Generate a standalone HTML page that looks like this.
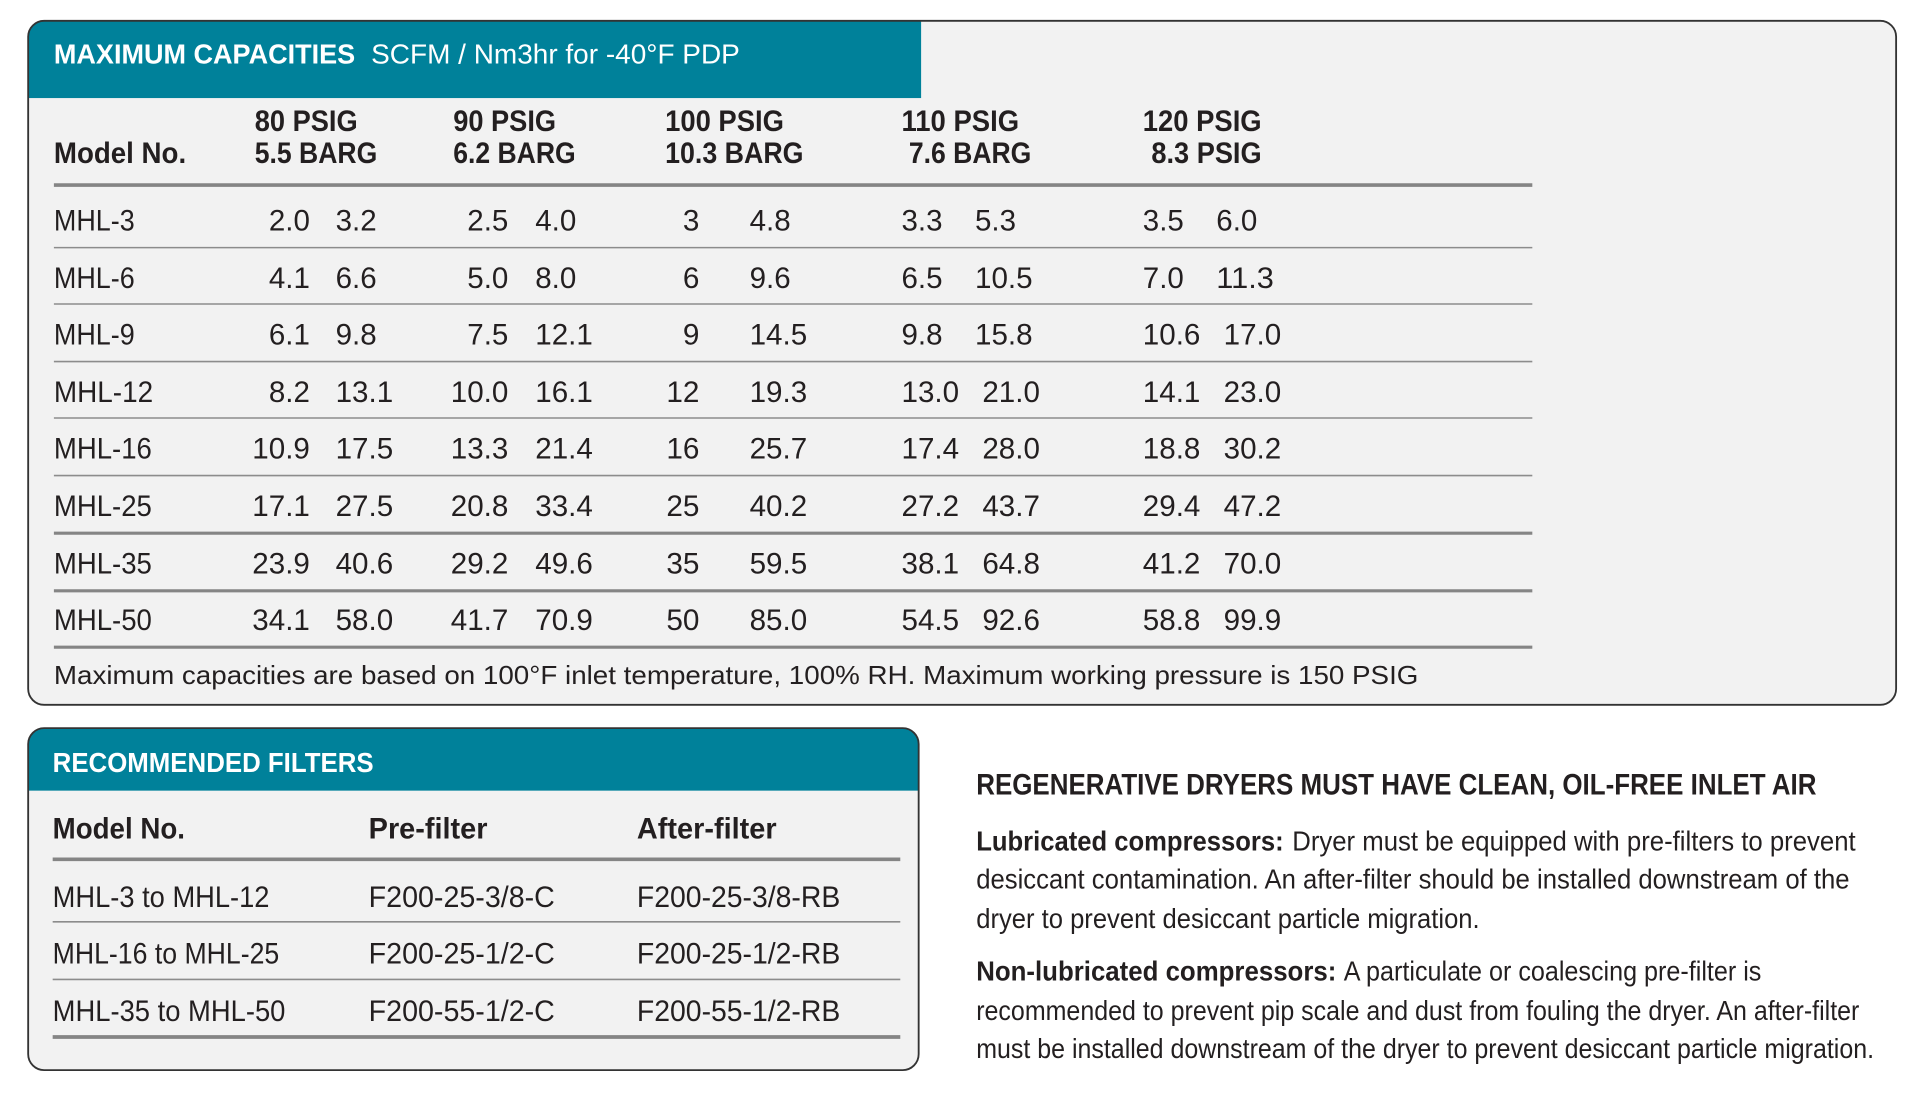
<!DOCTYPE html>
<html><head><meta charset="utf-8"><style>
html,body{margin:0;padding:0;background:#fff;}
svg{display:block}
text{font-family:"Liberation Sans Narrow","Liberation Sans",sans-serif;fill:#231f20}
.b{font-weight:bold}
.n{font-size:24px}
.h{font-size:24px;font-weight:bold}
</style></head><body>
<svg width="1920" height="1095" viewBox="0 0 1567.5 893.3" preserveAspectRatio="none" xmlns="http://www.w3.org/2000/svg">
<defs>
<clipPath id="c1"><rect x="23" y="17" width="1525" height="558" rx="13"/></clipPath>
<clipPath id="c2"><rect x="23" y="594" width="727" height="279" rx="13"/></clipPath>
</defs>
<rect width="1568" height="894" fill="#fff"/>
<rect x="23" y="17" width="1525" height="558" rx="13" fill="#f2f2f2"/>
<rect x="23" y="17" width="729" height="63" fill="#00819a" clip-path="url(#c1)"/>
<rect x="23" y="17" width="1525" height="558" rx="13" fill="none" stroke="#333" stroke-width="1.5"/>
<text x="44" y="52" class="b" style="font-size:23px;fill:#fff" textLength="246" lengthAdjust="spacingAndGlyphs">MAXIMUM CAPACITIES</text>
<text x="303" y="52" style="font-size:23px;fill:#fff" textLength="301" lengthAdjust="spacingAndGlyphs">SCFM / Nm3hr for -40°F PDP</text>

<text x="208" y="107" class="h" textLength="84" lengthAdjust="spacingAndGlyphs">80 PSIG</text>
<text x="208" y="133" class="h" textLength="100" lengthAdjust="spacingAndGlyphs">5.5 BARG</text>
<text x="44" y="133" class="h" textLength="108" lengthAdjust="spacingAndGlyphs">Model No.</text>
<text x="370" y="107" class="h" textLength="84" lengthAdjust="spacingAndGlyphs">90 PSIG</text>
<text x="370" y="133" class="h" textLength="100" lengthAdjust="spacingAndGlyphs">6.2 BARG</text>
<text x="543" y="107" class="h" textLength="97" lengthAdjust="spacingAndGlyphs">100 PSIG</text>
<text x="543" y="133" class="h" textLength="113" lengthAdjust="spacingAndGlyphs">10.3 BARG</text>
<text x="736" y="107" class="h" textLength="96" lengthAdjust="spacingAndGlyphs">110 PSIG</text>
<text x="742" y="133" class="h" textLength="100" lengthAdjust="spacingAndGlyphs">7.6 BARG</text>
<text x="933" y="107" class="h" textLength="97" lengthAdjust="spacingAndGlyphs">120 PSIG</text>
<text x="940" y="133" class="h" textLength="90" lengthAdjust="spacingAndGlyphs">8.3 PSIG</text>

<line x1="44" y1="151" x2="1251" y2="151" stroke="#858585" stroke-width="3"/>
<g stroke="#8c8c8c" stroke-width="1.3">
<line x1="44" y1="202" x2="1251" y2="202"/>
<line x1="44" y1="248" x2="1251" y2="248"/>
<line x1="44" y1="295" x2="1251" y2="295"/>
<line x1="44" y1="341" x2="1251" y2="341"/>
<line x1="44" y1="388" x2="1251" y2="388"/>
</g>
<g stroke="#858585" stroke-width="2.5">
<line x1="44" y1="435" x2="1251" y2="435"/>
<line x1="44" y1="482" x2="1251" y2="482"/>
<line x1="44" y1="528" x2="1251" y2="528"/>
</g>

<g transform="translate(0,188)">
<text x="44" class="n" textLength="66" lengthAdjust="spacingAndGlyphs">MHL-3</text>
<text x="253" text-anchor="end" class="n" textLength="33.5" lengthAdjust="spacingAndGlyphs">2.0</text><text x="274" class="n" textLength="33.5" lengthAdjust="spacingAndGlyphs">3.2</text>
<text x="415" text-anchor="end" class="n" textLength="33.5" lengthAdjust="spacingAndGlyphs">2.5</text><text x="437" class="n" textLength="33.5" lengthAdjust="spacingAndGlyphs">4.0</text>
<text x="571" text-anchor="end" class="n" textLength="13.5" lengthAdjust="spacingAndGlyphs">3</text><text x="612" class="n" textLength="33.5" lengthAdjust="spacingAndGlyphs">4.8</text>
<text x="736" class="n" textLength="33.5" lengthAdjust="spacingAndGlyphs">3.3</text><text x="796" class="n" textLength="33.5" lengthAdjust="spacingAndGlyphs">5.3</text>
<text x="933" class="n" textLength="33.5" lengthAdjust="spacingAndGlyphs">3.5</text><text x="993" class="n" textLength="33.5" lengthAdjust="spacingAndGlyphs">6.0</text>
</g>
<g transform="translate(0,235)">
<text x="44" class="n" textLength="66" lengthAdjust="spacingAndGlyphs">MHL-6</text>
<text x="253" text-anchor="end" class="n" textLength="33.5" lengthAdjust="spacingAndGlyphs">4.1</text><text x="274" class="n" textLength="33.5" lengthAdjust="spacingAndGlyphs">6.6</text>
<text x="415" text-anchor="end" class="n" textLength="33.5" lengthAdjust="spacingAndGlyphs">5.0</text><text x="437" class="n" textLength="33.5" lengthAdjust="spacingAndGlyphs">8.0</text>
<text x="571" text-anchor="end" class="n" textLength="13.5" lengthAdjust="spacingAndGlyphs">6</text><text x="612" class="n" textLength="33.5" lengthAdjust="spacingAndGlyphs">9.6</text>
<text x="736" class="n" textLength="33.5" lengthAdjust="spacingAndGlyphs">6.5</text><text x="796" class="n" textLength="47" lengthAdjust="spacingAndGlyphs">10.5</text>
<text x="933" class="n" textLength="33.5" lengthAdjust="spacingAndGlyphs">7.0</text><text x="993" class="n" textLength="47" lengthAdjust="spacingAndGlyphs">11.3</text>
</g>
<g transform="translate(0,281)">
<text x="44" class="n" textLength="66" lengthAdjust="spacingAndGlyphs">MHL-9</text>
<text x="253" text-anchor="end" class="n" textLength="33.5" lengthAdjust="spacingAndGlyphs">6.1</text><text x="274" class="n" textLength="33.5" lengthAdjust="spacingAndGlyphs">9.8</text>
<text x="415" text-anchor="end" class="n" textLength="33.5" lengthAdjust="spacingAndGlyphs">7.5</text><text x="437" class="n" textLength="47" lengthAdjust="spacingAndGlyphs">12.1</text>
<text x="571" text-anchor="end" class="n" textLength="13.5" lengthAdjust="spacingAndGlyphs">9</text><text x="612" class="n" textLength="47" lengthAdjust="spacingAndGlyphs">14.5</text>
<text x="736" class="n" textLength="33.5" lengthAdjust="spacingAndGlyphs">9.8</text><text x="796" class="n" textLength="47" lengthAdjust="spacingAndGlyphs">15.8</text>
<text x="933" class="n" textLength="47" lengthAdjust="spacingAndGlyphs">10.6</text><text x="999" class="n" textLength="47" lengthAdjust="spacingAndGlyphs">17.0</text>
</g>
<g transform="translate(0,328)">
<text x="44" class="n" textLength="81" lengthAdjust="spacingAndGlyphs">MHL-12</text>
<text x="253" text-anchor="end" class="n" textLength="33.5" lengthAdjust="spacingAndGlyphs">8.2</text><text x="274" class="n" textLength="47" lengthAdjust="spacingAndGlyphs">13.1</text>
<text x="415" text-anchor="end" class="n" textLength="47" lengthAdjust="spacingAndGlyphs">10.0</text><text x="437" class="n" textLength="47" lengthAdjust="spacingAndGlyphs">16.1</text>
<text x="571" text-anchor="end" class="n" textLength="27" lengthAdjust="spacingAndGlyphs">12</text><text x="612" class="n" textLength="47" lengthAdjust="spacingAndGlyphs">19.3</text>
<text x="736" class="n" textLength="47" lengthAdjust="spacingAndGlyphs">13.0</text><text x="802" class="n" textLength="47" lengthAdjust="spacingAndGlyphs">21.0</text>
<text x="933" class="n" textLength="47" lengthAdjust="spacingAndGlyphs">14.1</text><text x="999" class="n" textLength="47" lengthAdjust="spacingAndGlyphs">23.0</text>
</g>
<g transform="translate(0,374)">
<text x="44" class="n" textLength="80" lengthAdjust="spacingAndGlyphs">MHL-16</text>
<text x="253" text-anchor="end" class="n" textLength="47" lengthAdjust="spacingAndGlyphs">10.9</text><text x="274" class="n" textLength="47" lengthAdjust="spacingAndGlyphs">17.5</text>
<text x="415" text-anchor="end" class="n" textLength="47" lengthAdjust="spacingAndGlyphs">13.3</text><text x="437" class="n" textLength="47" lengthAdjust="spacingAndGlyphs">21.4</text>
<text x="571" text-anchor="end" class="n" textLength="27" lengthAdjust="spacingAndGlyphs">16</text><text x="612" class="n" textLength="47" lengthAdjust="spacingAndGlyphs">25.7</text>
<text x="736" class="n" textLength="47" lengthAdjust="spacingAndGlyphs">17.4</text><text x="802" class="n" textLength="47" lengthAdjust="spacingAndGlyphs">28.0</text>
<text x="933" class="n" textLength="47" lengthAdjust="spacingAndGlyphs">18.8</text><text x="999" class="n" textLength="47" lengthAdjust="spacingAndGlyphs">30.2</text>
</g>
<g transform="translate(0,421)">
<text x="44" class="n" textLength="80" lengthAdjust="spacingAndGlyphs">MHL-25</text>
<text x="253" text-anchor="end" class="n" textLength="47" lengthAdjust="spacingAndGlyphs">17.1</text><text x="274" class="n" textLength="47" lengthAdjust="spacingAndGlyphs">27.5</text>
<text x="415" text-anchor="end" class="n" textLength="47" lengthAdjust="spacingAndGlyphs">20.8</text><text x="437" class="n" textLength="47" lengthAdjust="spacingAndGlyphs">33.4</text>
<text x="571" text-anchor="end" class="n" textLength="27" lengthAdjust="spacingAndGlyphs">25</text><text x="612" class="n" textLength="47" lengthAdjust="spacingAndGlyphs">40.2</text>
<text x="736" class="n" textLength="47" lengthAdjust="spacingAndGlyphs">27.2</text><text x="802" class="n" textLength="47" lengthAdjust="spacingAndGlyphs">43.7</text>
<text x="933" class="n" textLength="47" lengthAdjust="spacingAndGlyphs">29.4</text><text x="999" class="n" textLength="47" lengthAdjust="spacingAndGlyphs">47.2</text>
</g>
<g transform="translate(0,468)">
<text x="44" class="n" textLength="80" lengthAdjust="spacingAndGlyphs">MHL-35</text>
<text x="253" text-anchor="end" class="n" textLength="47" lengthAdjust="spacingAndGlyphs">23.9</text><text x="274" class="n" textLength="47" lengthAdjust="spacingAndGlyphs">40.6</text>
<text x="415" text-anchor="end" class="n" textLength="47" lengthAdjust="spacingAndGlyphs">29.2</text><text x="437" class="n" textLength="47" lengthAdjust="spacingAndGlyphs">49.6</text>
<text x="571" text-anchor="end" class="n" textLength="27" lengthAdjust="spacingAndGlyphs">35</text><text x="612" class="n" textLength="47" lengthAdjust="spacingAndGlyphs">59.5</text>
<text x="736" class="n" textLength="47" lengthAdjust="spacingAndGlyphs">38.1</text><text x="802" class="n" textLength="47" lengthAdjust="spacingAndGlyphs">64.8</text>
<text x="933" class="n" textLength="47" lengthAdjust="spacingAndGlyphs">41.2</text><text x="999" class="n" textLength="47" lengthAdjust="spacingAndGlyphs">70.0</text>
</g>
<g transform="translate(0,514)">
<text x="44" class="n" textLength="80" lengthAdjust="spacingAndGlyphs">MHL-50</text>
<text x="253" text-anchor="end" class="n" textLength="47" lengthAdjust="spacingAndGlyphs">34.1</text><text x="274" class="n" textLength="47" lengthAdjust="spacingAndGlyphs">58.0</text>
<text x="415" text-anchor="end" class="n" textLength="47" lengthAdjust="spacingAndGlyphs">41.7</text><text x="437" class="n" textLength="47" lengthAdjust="spacingAndGlyphs">70.9</text>
<text x="571" text-anchor="end" class="n" textLength="27" lengthAdjust="spacingAndGlyphs">50</text><text x="612" class="n" textLength="47" lengthAdjust="spacingAndGlyphs">85.0</text>
<text x="736" class="n" textLength="47" lengthAdjust="spacingAndGlyphs">54.5</text><text x="802" class="n" textLength="47" lengthAdjust="spacingAndGlyphs">92.6</text>
<text x="933" class="n" textLength="47" lengthAdjust="spacingAndGlyphs">58.8</text><text x="999" class="n" textLength="47" lengthAdjust="spacingAndGlyphs">99.9</text>
</g>
<text x="44" y="558" style="font-family:'Liberation Sans',sans-serif;font-size:21px" textLength="1114" lengthAdjust="spacingAndGlyphs">Maximum capacities are based on 100°F inlet temperature, 100% RH. Maximum working pressure is 150 PSIG</text>

<rect x="23" y="594" width="727" height="279" rx="13" fill="#f2f2f2"/>
<rect x="23" y="594" width="727" height="51" fill="#00819a" clip-path="url(#c2)"/>
<rect x="23" y="594" width="727" height="279" rx="13" fill="none" stroke="#333" stroke-width="1.5"/>
<text x="43" y="630" class="b" style="font-size:23px;fill:#fff" textLength="262" lengthAdjust="spacingAndGlyphs">RECOMMENDED FILTERS</text>
<text x="43" y="684" class="h" textLength="108" lengthAdjust="spacingAndGlyphs">Model No.</text>
<text x="301" y="684" class="h" textLength="97" lengthAdjust="spacingAndGlyphs">Pre-filter</text>
<text x="520" y="684" class="h" textLength="114" lengthAdjust="spacingAndGlyphs">After-filter</text>
<line x1="43" y1="701" x2="735" y2="701" stroke="#858585" stroke-width="3"/>
<line x1="43" y1="752" x2="735" y2="752" stroke="#8c8c8c" stroke-width="1.3"/>
<line x1="43" y1="799" x2="735" y2="799" stroke="#8c8c8c" stroke-width="1.3"/>
<line x1="43" y1="846" x2="735" y2="846" stroke="#858585" stroke-width="3"/>
<text x="43" y="740" class="n" textLength="177" lengthAdjust="spacingAndGlyphs">MHL-3 to MHL-12</text>
<text x="301" y="740" class="n" textLength="152" lengthAdjust="spacingAndGlyphs">F200-25-3/8-C</text>
<text x="520" y="740" class="n" textLength="166" lengthAdjust="spacingAndGlyphs">F200-25-3/8-RB</text>
<text x="43" y="786" class="n" textLength="185" lengthAdjust="spacingAndGlyphs">MHL-16 to MHL-25</text>
<text x="301" y="786" class="n" textLength="152" lengthAdjust="spacingAndGlyphs">F200-25-1/2-C</text>
<text x="520" y="786" class="n" textLength="166" lengthAdjust="spacingAndGlyphs">F200-25-1/2-RB</text>
<text x="43" y="833" class="n" textLength="190" lengthAdjust="spacingAndGlyphs">MHL-35 to MHL-50</text>
<text x="301" y="833" class="n" textLength="152" lengthAdjust="spacingAndGlyphs">F200-55-1/2-C</text>
<text x="520" y="833" class="n" textLength="166" lengthAdjust="spacingAndGlyphs">F200-55-1/2-RB</text>

<text x="797" y="648" class="h" textLength="686" lengthAdjust="spacingAndGlyphs">REGENERATIVE DRYERS MUST HAVE CLEAN, OIL-FREE INLET AIR</text>
<text x="797" y="694" class="h" style="font-size:23px" textLength="251" lengthAdjust="spacingAndGlyphs">Lubricated compressors:</text>
<text x="1055" y="694" style="font-size:23px" textLength="460" lengthAdjust="spacingAndGlyphs">Dryer must be equipped with pre-filters to prevent</text>
<text x="797" y="725" style="font-size:23px" textLength="713" lengthAdjust="spacingAndGlyphs">desiccant contamination. An after-filter should be installed downstream of the</text>
<text x="797" y="757" style="font-size:23px" textLength="411" lengthAdjust="spacingAndGlyphs">dryer to prevent desiccant particle migration.</text>
<text x="797" y="800" class="h" style="font-size:23px" textLength="294" lengthAdjust="spacingAndGlyphs">Non-lubricated compressors:</text>
<text x="1097" y="800" style="font-size:23px" textLength="341" lengthAdjust="spacingAndGlyphs">A particulate or coalescing pre-filter is</text>
<text x="797" y="832" style="font-size:23px" textLength="721" lengthAdjust="spacingAndGlyphs">recommended to prevent pip scale and dust from fouling the dryer. An after-filter</text>
<text x="797" y="863" style="font-size:23px" textLength="733" lengthAdjust="spacingAndGlyphs">must be installed downstream of the dryer to prevent desiccant particle migration.</text>
</svg>
</body></html>
